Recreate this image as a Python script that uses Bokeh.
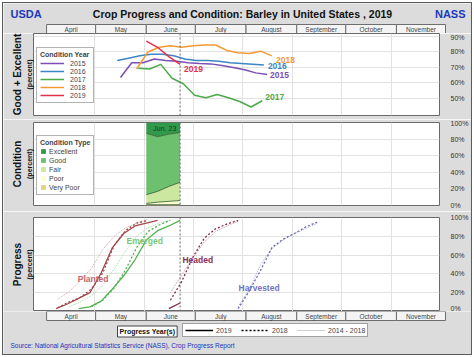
from datetime import date
from bokeh.plotting import figure
from bokeh.layouts import column
from bokeh.models import (Range1d, LinearAxis, FixedTicker, Legend, LegendItem, Label, Span,
                          Title, PrintfTickFormatter, ColumnDataSource)
from bokeh.core.properties import value
from bokeh.embed import file_html
from bokeh.resources import INLINE

# ---------------- data ----------------
months = ["April", "May", "June", "July", "August", "September", "October", "November"]
month_starts = ["04-01", "05-01", "06-01", "07-01", "08-01", "09-01", "10-01", "11-01"]
month_ends = ["05-01", "06-01", "07-01", "08-01", "09-01", "10-01", "11-01", "12-01"]
axis_start, axis_end = "03-24", "12-01"
report_date = "06-23"

cond_years = ["2015", "2016", "2017", "2018", "2019"]
cond_2015_dates = ["05-17", "05-24", "05-31", "06-07", "06-14", "06-21", "06-28", "07-05",
                   "07-12", "07-19", "07-26", "08-02", "08-09", "08-16"]
cond_2015 = [63.5, 73, 73, 75.5, 74.5, 74, 73, 72.5, 72.3, 71.3, 70, 68.5, 66.5, 65.5]
cond_2016_dates = ["05-15", "05-22", "05-29", "06-05", "06-12", "06-19", "06-26", "07-03",
                   "07-10", "07-17", "07-24", "07-31", "08-07", "08-14"]
cond_2016 = [74.5, 76, 77.5, 78.5, 78.5, 77.5, 75.5, 74.5, 74.5, 74, 73, 72.5, 72, 71.5]
cond_2017_dates = ["05-28", "06-04", "06-11", "06-18", "06-25", "07-02", "07-09", "07-16",
                   "07-23", "07-30", "08-06", "08-13"]
cond_2017 = [69.5, 69, 72, 63, 59.5, 52, 50.5, 52.5, 50.5, 48, 44.5, 48.5]
cond_2018_dates = ["05-27", "06-03", "06-10", "06-17", "06-24", "07-01", "07-08", "07-15",
                   "07-22", "07-29", "08-05", "08-12", "08-19"]
cond_2018 = [69, 80, 83, 84, 83, 84, 84.5, 84.5, 81, 79.5, 79, 80.5, 77.5]
cond_2019_dates = ["06-02", "06-09", "06-16", "06-23"]
cond_2019 = [87, 83, 77, 72]

cond_types = ["Very Poor", "Poor", "Fair", "Good", "Excellent"]
very_poor_2019 = [1, 1, 1, 1]
poor_2019 = [1.5, 3, 4, 5]
fair_2019 = [10.5, 13, 18, 22]
good_2019 = [74, 66, 63, 60]
excellent_2019 = [13, 17, 14, 12]

planted_2019_dates = ["04-07", "04-14", "04-21", "04-28", "05-05", "05-12", "05-19", "05-26", "06-02", "06-09"]
planted_2019 = [3, 8, 14, 20, 41, 68, 83, 91, 94, 97]
emerged_2019_dates = ["04-21", "04-28", "05-05", "05-12", "05-19", "05-26", "06-02", "06-09", "06-16", "06-23"]
emerged_2019 = [3, 5, 11, 24, 38, 55, 76, 86, 91, 97]
headed_2019_dates = ["06-16", "06-23"]
headed_2019 = [3, 9]

planted_2018_dates = ["04-08", "04-15", "04-22", "04-29", "05-06", "05-13", "05-20", "05-27", "06-03"]
planted_2018 = [4, 10, 15, 24, 41, 70, 86, 94, 97]
emerged_2018_dates = ["04-29", "05-06", "05-13", "05-20", "05-27", "06-03", "06-10", "06-17"]
emerged_2018 = [5, 12, 25, 44, 68, 85, 92, 97]
headed_2018_dates = ["06-17", "06-24", "07-01", "07-08", "07-15", "07-22", "07-29"]
headed_2018 = [12, 32, 58, 78, 88, 93, 97]
harvested_2018_dates = ["07-29", "08-05", "08-12", "08-19", "08-26", "09-02", "09-09", "09-16"]
harvested_2018 = [3, 22, 44, 68, 77, 83, 90, 95]

planted_avg_dates = ["04-08", "04-15", "04-22", "04-29", "05-06", "05-13", "05-20", "05-27", "06-03"]
planted_avg = [13, 21, 33, 46, 66, 80, 89, 94, 98]
emerged_avg_dates = ["04-15", "04-22", "04-29", "05-06", "05-13", "05-20", "05-27", "06-03", "06-10", "06-17"]
emerged_avg = [5, 10, 17, 28, 45, 64, 80, 89, 94, 97]
headed_avg_dates = ["06-17", "06-24", "07-01", "07-08", "07-15", "07-22", "07-29"]
headed_avg = [20, 39, 57, 74, 85, 91, 96]
harvested_avg_dates = ["07-29", "08-05", "08-12", "08-19", "08-26", "09-02", "09-09", "09-16"]
harvested_avg = [5, 24, 50, 67, 76, 83, 88, 94]

progress_years = ["2019", "2018", "2014 - 2018"]
cond_ticks = [50, 60, 70, 80, 90]
pct_ticks = [0, 20, 40, 60, 80, 100]


def doy(md):
    m, d = map(int, md.split("-"))
    return date(2019, m, d).timetuple().tm_yday


def days(lst):
    return [doy(s) for s in lst]


# ---------------- styling ----------------
FONT = "Liberation Sans"
BG = "#dcdcdc"
W = 468            # inner width (474 minus 2px margin and 1px border on each side)
ML, MR = 30, 26
STRIP = 9
X0, X1 = doy(axis_start), doy(axis_end)
xr = Range1d(X0, X1)
PPD = (W - ML - MR) / (X1 - X0)
xr_full = Range1d(X0 - ML / PPD, X1 + MR / PPD)
bounds = days(month_starts[1:])
rd = doy(report_date)


def make_fig(h, top, bottom, y0, y1):
    p = figure(width=W, height=h, x_range=xr, y_range=Range1d(y0, y1), title=None,
               output_backend="svg", toolbar_location=None,
               x_axis_location=None, y_axis_location=None,
               min_border_left=ML, min_border_right=MR,
               min_border_top=top, min_border_bottom=bottom,
               border_fill_color=BG, background_fill_color="white",
               outline_line_color="#6a6a6a", outline_line_width=1)
    p.xgrid.ticker = FixedTicker(ticks=bounds)
    p.xgrid.grid_line_color = "#e2e2e2"
    p.ygrid.grid_line_color = "#e2e2e2"
    return p


def plain_fig(h, y0, y1):
    p = figure(width=W, height=h, x_range=xr_full, y_range=Range1d(y0, y1), title=None,
               output_backend="svg", toolbar_location=None,
               x_axis_location=None, y_axis_location=None, min_border=0,
               border_fill_color=BG, background_fill_color=BG, outline_line_color=None)
    p.grid.visible = False
    return p


def right_axis(p, ticks):
    ax = LinearAxis(ticker=FixedTicker(ticks=ticks), formatter=PrintfTickFormatter(format="%d%%"),
                    major_tick_line_color=None, minor_tick_line_color=None, axis_line_color=None,
                    major_label_text_font_size="7px", major_label_text_color="#333333",
                    major_label_text_font=FONT, major_label_standoff=5)
    p.add_layout(ax, "right")
    p.ygrid.ticker = FixedTicker(ticks=ticks)


def left_titles(p, main, sub):
    p.add_layout(Title(text=sub, text_font_size="7px", text_font_style="bold", align="center",
                       standoff=2, text_font=FONT, text_color="#111111"), "left")
    p.add_layout(Title(text=main, text_font_size="10px", text_font_style="bold", align="center",
                       standoff=0, text_font=FONT, text_color="#111111"), "left")


def report_span(p):
    p.add_layout(Span(location=rd, dimension="height", line_color="#666666",
                      line_dash="2 2", line_width=1))


def month_strip(p):
    left = [max(doy(s), X0) for s in month_starts]
    right = days(month_ends)
    mid = [(a + b) / 2 for a, b in zip(left, right)]
    p.quad(left=left, right=right, bottom=0, top=1, fill_color="#f4f4f4", line_color="#6e6e6e", line_width=1)
    p.text(x=mid, y=[0.5] * len(mid), text=months, text_align="center", text_baseline="middle",
           text_font_size="6.5px", text_color="#444444", text_font=value(FONT))


# ---------------- header (title + top month strip) ----------------
HH = 30
fh = plain_fig(HH, 0, HH / STRIP)
month_strip(fh)
fh.add_layout(Label(x=7, y=HH - 10, x_units="screen", y_units="screen", text="USDA", text_font=FONT,
                    text_font_size="11px", text_font_style="bold", text_color="#2038c0",
                    text_baseline="middle"))
fh.add_layout(Label(x=239, y=HH - 10, x_units="screen", y_units="screen",
                    text="Crop Progress and Condition: Barley in United States , 2019", text_font=FONT,
                    text_font_size="10.5px", text_font_style="bold", text_color="#111111",
                    text_align="center", text_baseline="middle"))
fh.add_layout(Label(x=462, y=HH - 10, x_units="screen", y_units="screen", text="NASS", text_font=FONT,
                    text_font_size="11px", text_font_style="bold", text_color="#2038c0",
                    text_align="right", text_baseline="middle"))

# ---------------- panel 1: good + excellent ----------------
p1 = make_fig(86, 0, 4, 39, 91.9)
right_axis(p1, cond_ticks)
left_titles(p1, "Good + Excellent", "(percent)")
year_colors = {"2015": "#7b4fb3", "2016": "#3c86c6", "2017": "#4caa48", "2018": "#f39a35", "2019": "#e3304a"}
label_offsets = {"2015": (3, 1), "2016": (4, 1), "2017": (3, -4), "2018": (4, 4), "2019": (4, 5)}
series = {"2015": (cond_2015_dates, cond_2015), "2016": (cond_2016_dates, cond_2016),
          "2017": (cond_2017_dates, cond_2017), "2018": (cond_2018_dates, cond_2018),
          "2019": (cond_2019_dates, cond_2019)}
report_span(p1)
items = []
for yr in cond_years:
    ds, vs = series[yr]
    xs = days(ds)
    r = p1.line(xs, vs, line_color=year_colors[yr], line_width=1.5)
    items.append(LegendItem(label=yr, renderers=[r]))
    dx, dy = label_offsets[yr]
    p1.text(x=[xs[-1]], y=[vs[-1]], text=[yr], x_offset=dx, y_offset=dy, text_baseline="middle",
            text_font_size="8.5px", text_font_style="bold", text_color=year_colors[yr], text_font=value(FONT))
leg1 = Legend(items=items, location=(3, 12), title="Condition Year", title_text_font_size="7px",
              title_text_font_style="bold", title_text_font=FONT, title_standoff=1,
              label_text_font_size="7px", label_text_font=FONT, glyph_height=8, glyph_width=24,
              label_height=8, label_standoff=6, spacing=0, padding=3, margin=0,
              border_line_color="#666666", background_fill_color="white", background_fill_alpha=1)
p1.add_layout(leg1)

# ---------------- panel 2: condition ----------------
p2 = make_fig(92, 3, 6, 0, 100)
right_axis(p2, pct_ticks)
left_titles(p2, "Condition", "(percent)")
src2 = ColumnDataSource(dict(x=days(cond_2019_dates), vp=very_poor_2019, po=poor_2019, fa=fair_2019,
                             go=good_2019, ex=excellent_2019))
cond_colors = ["#e3d27e", "#fdfdd0", "#cbe7a0", "#6cc06e", "#33994a"]
rs = p2.varea_stack(["vp", "po", "fa", "go", "ex"], x="x", source=src2, color=cond_colors)
cum = [0, 0, 0, 0]
for arr in [very_poor_2019, poor_2019, fair_2019, good_2019]:
    cum = [c + a for c, a in zip(cum, arr)]
    p2.line(days(cond_2019_dates), cum, line_color="#2f5a2f", line_width=0.8)
report_span(p2)
p2.add_layout(Label(x=sum(days(cond_2019_dates)) / 4 + 1, y=93, text="Jun. 23", text_font=FONT,
                    text_font_size="7px", text_color="#1c3a1c", text_align="center", text_baseline="middle"))
leg2 = Legend(items=[LegendItem(label=n, renderers=[r]) for n, r in reversed(list(zip(cond_types, rs)))],
              location=(3, 10), title="Condition Type", title_text_font_size="7px",
              title_text_font_style="bold", title_text_font=FONT, title_standoff=1,
              label_text_font_size="7px", label_text_font=FONT, glyph_height=6, glyph_width=6,
              label_height=8, label_standoff=3, spacing=1, padding=3, margin=0,
              border_line_color="#666666", background_fill_color="white", background_fill_alpha=1)
p2.add_layout(leg2)

# ---------------- panel 3: progress ----------------
p3 = make_fig(100, 6, 0, 0, 100)
right_axis(p3, pct_ticks)
left_titles(p3, "Progress", "(percent)")
stage_colors = {"Planted": ("#a2474d", "#d8a4a6"), "Emerged": ("#52b352", "#a6d9a2"),
                "Headed": ("#86294f", "#c995b0"), "Harvested": ("#6767b5", "#a9a9d8")}
progress = [
    ("Planted", planted_avg_dates, planted_avg, planted_2018_dates, planted_2018, planted_2019_dates, planted_2019),
    ("Emerged", emerged_avg_dates, emerged_avg, emerged_2018_dates, emerged_2018, emerged_2019_dates, emerged_2019),
    ("Headed", headed_avg_dates, headed_avg, headed_2018_dates, headed_2018, headed_2019_dates, headed_2019),
    ("Harvested", harvested_avg_dates, harvested_avg, harvested_2018_dates, harvested_2018, None, None),
]
for name, ad, av, d8, v8, d9, v9 in progress:
    main_c, light_c = stage_colors[name]
    p3.line(days(ad), av, line_color=light_c, line_width=1, line_dash="1 1")
    p3.line(days(d8), v8, line_color=main_c, line_width=1.3, line_dash="2 2")
    if d9:
        p3.line(days(d9), v9, line_color=main_c, line_width=1.3)
stage_label_pos = {"Planted": ("04-30", 35), "Emerged": ("06-01", 75), "Headed": ("07-04", 55),
                   "Harvested": ("08-11", 25)}
stage_label_col = {"Planted": "#c0666a", "Emerged": "#77c877", "Headed": "#8a2c55", "Harvested": "#7373c2"}
for name, (d, v) in stage_label_pos.items():
    p3.add_layout(Label(x=doy(d), y=v, text=name, text_font=FONT, text_font_size="8.5px",
                        text_font_style="bold", text_color=stage_label_col[name],
                        text_align="center", text_baseline="middle"))
report_span(p3)

# ---------------- footer (bottom month strip + legend + source) ----------------
FH = 43
ff = plain_fig(FH, 1 - FH / STRIP, 1)
month_strip(ff)
nan = float("nan")
r19 = ff.line(x=[nan], y=[nan], line_color="black", line_width=1.5)
r18 = ff.line(x=[nan], y=[nan], line_color="black", line_width=1.3, line_dash="2 2")
rav = ff.line(x=[nan], y=[nan], line_color="#9a9a9a", line_width=1, line_dash="1 1")
leg4 = Legend(items=[LegendItem(label=lab, renderers=[r]) for lab, r in zip(progress_years, [r19, r18, rav])],
              orientation="horizontal", location=(179, 17), label_text_font_size="7px",
              label_text_font=FONT, glyph_height=8, glyph_width=28, label_height=8, label_standoff=3,
              spacing=5, padding=2, margin=0, border_line_color="#444444",
              background_fill_color="white", background_fill_alpha=1)
ff.add_layout(leg4)
ff.add_layout(Label(x=114, y=23, x_units="screen", y_units="screen", text="Progress Year(s)",
                    text_font=FONT, text_font_size="7px", text_font_style="bold", text_color="#111111",
                    text_baseline="middle", border_line_color="#444444", background_fill_color="white",
                    padding=2))
ff.add_layout(Label(x=7, y=9, x_units="screen", y_units="screen",
                    text="Source: National Agricultural Statistics Service (NASS), Crop Progress Report",
                    text_font=FONT, text_font_size="6.5px", text_color="#2233bb", text_baseline="middle"))

layout = column(fh, column(p1, p2, p3, spacing=0), ff, spacing=0, margin=(2, 2, 2, 2),
                styles={"border": "1px solid #5a5a5a"})
open("out.html", "w").write(file_html(layout, INLINE))
